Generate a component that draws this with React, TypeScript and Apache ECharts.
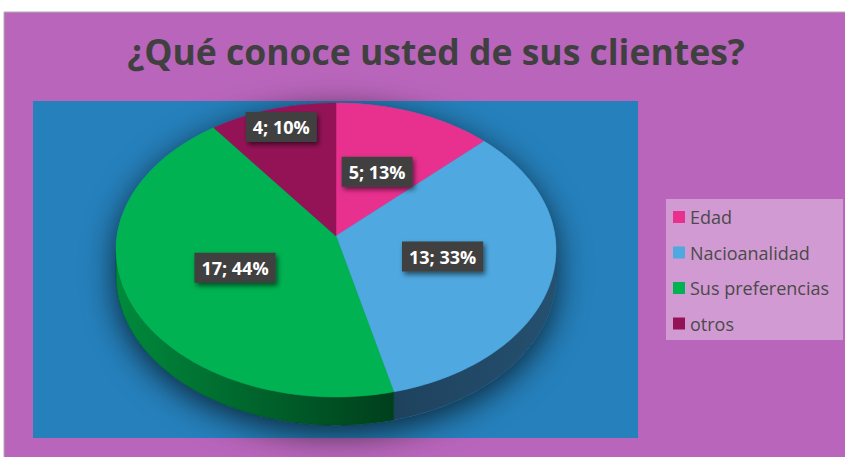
import React, { useEffect, useRef } from 'react';
import * as echarts from 'echarts';

const categories = ['Edad', 'Nacioanalidad', 'Sus preferencias', 'otros'];
const values = [5, 13, 17, 4];
const topColors = ['#E8308F', '#4FA8DF', '#00B251', '#941357'];
const sideColors: [string, string][] = [
  ['#8A1C55', '#8A1C55'],
  ['#1E425E', '#25506F'],
  ['#008A3C', '#003F1C'],
  ['#5A0B34', '#5A0B34'],
];
const labelRadius = [0.5, 0.5, 0.5, 0.85];
const titleText = '¿Qué conoce usted de sus clientes?';

// projection of the tilted disc
const CX = 336;
const CY = 236;
const RX = 219;
const A = 123.2;
const K = -0.0952;
const DEPTH = 25.5;
const VIS_LO = 95.5;
const VIS_HI = 264.5;

function project(deg: number, r: number, dz = 0): number[] {
  const t = (deg * Math.PI) / 180;
  const u = r * Math.sin(t);
  const v = -r * Math.cos(t);
  const den = 1 + K * v;
  return [CX + (RX * u) / den, (A * v + CY) / den + dz / den];
}

function arc(from: number, to: number, dz: number): number[][] {
  const pts: number[][] = [];
  const n = Math.max(2, Math.ceil(Math.abs(to - from)));
  for (let i = 0; i <= n; i++) pts.push(project(from + ((to - from) * i) / n, 1, dz));
  return pts;
}

export default function App() {
  const ref = useRef<HTMLDivElement>(null);
  useEffect(() => {
    if (!ref.current) return;
    const chart = echarts.init(ref.current, undefined, { renderer: 'svg' });
    const total = values.reduce((a, b) => a + b, 0);
    const starts: number[] = [];
    let acc = 0;
    values.forEach((v) => {
      starts.push((acc / total) * 360);
      acc += v;
    });

    const series = categories.map((name, i) => ({
      type: 'custom',
      name,
      coordinateSystem: 'none',
      silent: true,
      itemStyle: { color: topColors[i] },
      data: [[i, values[i]]],
      renderItem: () => {
        const s = starts[i];
        const e = s + (values[i] / total) * 360;
        const children: any[] = [];
        if (i === 0) {
          const sil = [...arc(VIS_HI - 360, VIS_LO, 0), ...arc(VIS_LO, VIS_HI, DEPTH)];
          children.push({
            type: 'polygon',
            z2: -5,
            shape: { points: sil },
            style: {
              fill: '#2580BB',
              shadowBlur: 32,
              shadowColor: 'rgba(0,0,0,0.7)',
              shadowOffsetY: 8,
            },
          });
        }
        const lo = Math.max(s, VIS_LO);
        const hi = Math.min(e, VIS_HI);
        if (lo < hi) {
          const pts = [...arc(lo, hi, 0), ...arc(hi, lo, DEPTH)];
          children.push({
            type: 'polygon',
            shape: { points: pts },
            style: {
              fill: new echarts.graphic.LinearGradient(0, 0, 1, 0, [
                { offset: 0, color: sideColors[i][0] },
                { offset: 1, color: sideColors[i][1] },
              ]),
              stroke: sideColors[i][1],
              lineWidth: 0.5,
            },
          });
        }
        const top = [project(0, 0), ...arc(s, e, 0)];
        children.push({
          type: 'polygon',
          shape: { points: top },
          style: { fill: topColors[i], stroke: topColors[i], lineWidth: 0.5 },
        });
        const mid = (s + e) / 2;
        const lp = project(mid, labelRadius[i]);
        const pct = Math.round((values[i] / total) * 100);
        children.push({
          type: 'text',
          z2: 100,
          x: lp[0],
          y: lp[1],
          style: {
            text: `${values[i]}; ${pct}%`,
            fill: '#FFFFFF',
            font: 'bold 18px "Open Sans"',
            align: 'center',
            verticalAlign: 'middle',
            backgroundColor: '#3F3F3F',
            padding: [5, 7, 5, 7],
            lineHeight: 20,
            shadowBlur: 5,
            shadowColor: 'rgba(0,0,0,0.55)',
            shadowOffsetX: 2,
            shadowOffsetY: 3,
          },
        });
        return { type: 'group', children };
      },
    }));

    chart.setOption({
      animation: false,
      backgroundColor: '#FFFFFF',
      title: {
        text: titleText,
        left: 431,
        top: 28,
        textAlign: 'center',
        textStyle: {
          fontFamily: '"Open Sans"',
          fontWeight: 'bold',
          fontSize: 35.5,
          color: '#404040',
        },
      },
      legend: {
        orient: 'vertical',
        left: 668,
        top: 203,
        icon: 'rect',
        itemWidth: 12,
        itemHeight: 12,
        itemGap: 17.5,
        data: categories,
        selectedMode: false,
        textStyle: { fontFamily: '"Open Sans"', fontSize: 18, color: '#4A4A4A' },
      },
      graphic: [
        {
          type: 'rect',
          z: -10,
          shape: { x: 4, y: 12, width: 845, height: 450 },
          style: { fill: '#B865BB', stroke: '#B0B0B0', lineWidth: 1 },
        },
        {
          type: 'rect',
          z: -9,
          shape: { x: 33, y: 101, width: 605, height: 337 },
          style: { fill: '#2580BB' },
        },
        {
          type: 'rect',
          z: -9,
          shape: { x: 666, y: 199, width: 177, height: 141 },
          style: { fill: '#D29AD2' },
        },
      ],
      series,
    });
    return () => chart.dispose();
  }, []);
  return (
    <div
      ref={ref}
      style={{ position: 'absolute', left: 0, top: 0, width: 845, height: 457 }}
    />
  );
}
